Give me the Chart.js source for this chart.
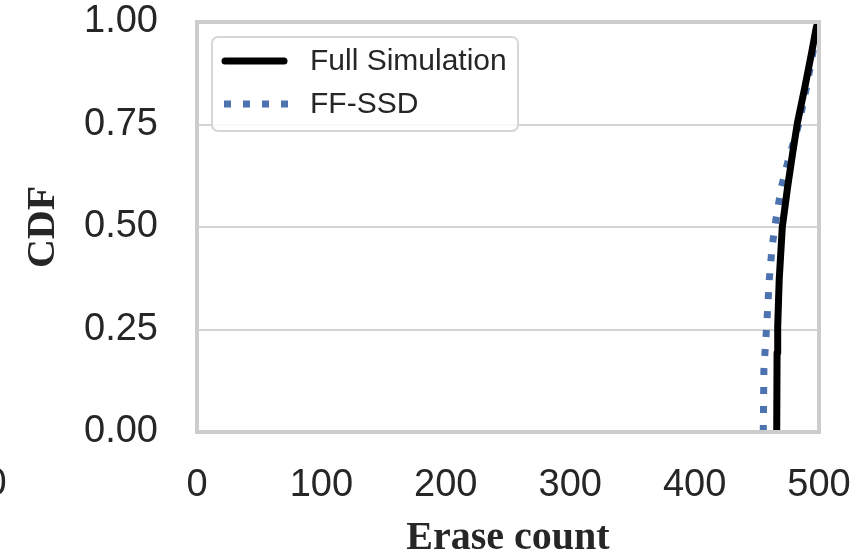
<!DOCTYPE html>
<html>
<head>
<meta charset="utf-8">
<script src="https://cdn.jsdelivr.net/npm/chart.js@4.4.1/dist/chart.umd.min.js"></script>
<style>
  html, body { margin: 0; padding: 0; background: #fff; }
  canvas { display: block; }
</style>
</head>
<body>
<canvas id="cdfChart" width="861" height="557"></canvas>
<script>
// CDF of per-block erase counts
const fullSimCount = [466, 466.3, 466.8, 468, 470.5, 474.8, 478.8, 482.6, 488.7, 494, 498, 499.5];
const fullSimCdf   = [0,   0.193, 0.257, 0.371, 0.50, 0.598, 0.68, 0.753, 0.842, 0.924, 0.989, 1.0];

const ffSsdCount = [455.2, 455.7, 457.9, 460, 462.3, 465.3, 469.8, 475.3, 484, 490, 495, 498, 499.5];
const ffSsdCdf   = [0,     0.151, 0.257, 0.371, 0.452, 0.517, 0.598, 0.663, 0.753, 0.842, 0.924, 0.989, 1.0];

const xTicks = [0, 100, 200, 300, 400, 500];
const yTicks = [0, 0.25, 0.5, 0.75, 1.0];

const textColor = '#262626';
const sans = '"Liberation Sans", Arial, sans-serif';
const serif = '"Liberation Serif", "Times New Roman", serif';

const toPoints = (xs, ys) => xs.map((x, i) => ({ x: x, y: ys[i] }));

// frame around the plot area, drawn above the curves
const frame = {
  id: 'frame',
  afterDatasetsDraw(chart) {
    const { ctx, chartArea: a } = chart;
    ctx.save();
    ctx.strokeStyle = '#cccccc';
    ctx.lineWidth = 4;
    ctx.strokeRect(a.left, a.top, a.right - a.left, a.bottom - a.top);
    ctx.restore();
  }
};

// boxed legend in the upper-left corner of the plot
const boxLegend = {
  id: 'boxLegend',
  afterDraw(chart) {
    const { ctx, chartArea: a } = chart;
    const x0 = a.left + 15, y0 = a.top + 15;
    ctx.save();
    ctx.beginPath();
    ctx.roundRect(x0, y0, 306, 94, 6);
    ctx.fillStyle = 'rgba(255,255,255,0.85)';
    ctx.fill();
    ctx.strokeStyle = '#d6d6d6';
    ctx.lineWidth = 2;
    ctx.stroke();
    chart.data.datasets.forEach((ds, i) => {
      const cy = y0 + 24 + i * 43;
      const dashed = ds.borderDash && ds.borderDash.length;
      ctx.beginPath();
      ctx.setLineDash(dashed ? ds.borderDash : []);
      ctx.lineCap = dashed ? 'butt' : 'round';
      ctx.moveTo(x0 + (dashed ? 12 : 13), cy);
      ctx.lineTo(x0 + (dashed ? 76 : 72), cy);
      ctx.strokeStyle = ds.borderColor;
      ctx.lineWidth = ds.borderWidth;
      ctx.stroke();
      ctx.setLineDash([]);
      ctx.fillStyle = textColor;
      ctx.font = '30px ' + sans;
      ctx.textBaseline = 'middle';
      ctx.textAlign = 'left';
      ctx.fillText(ds.label, x0 + 98, cy + 1);
    });
    // last tick label of the neighbouring panel, cut by the left edge
    ctx.font = '38px ' + sans;
    ctx.textAlign = 'center';
    ctx.fillText('0', -4, a.bottom + 53);
    ctx.restore();
  }
};

new Chart(document.getElementById('cdfChart'), {
  type: 'line',
  data: {
    datasets: [
      {
        label: 'Full Simulation',
        data: toPoints(fullSimCount, fullSimCdf),
        borderColor: '#000000',
        borderWidth: 7,
        borderJoinStyle: 'round',
        pointRadius: 0,
        tension: 0
      },
      {
        label: 'FF-SSD',
        data: toPoints(ffSsdCount, ffSsdCdf),
        borderColor: '#4c72b0',
        borderWidth: 7,
        borderDash: [7, 12],
        borderCapStyle: 'butt',
        borderJoinStyle: 'round',
        pointRadius: 0,
        tension: 0
      }
    ]
  },
  options: {
    responsive: false,
    animation: false,
    devicePixelRatio: 1,
    layout: { padding: { top: 22, right: 42, left: 0, bottom: 0 } },
    plugins: {
      legend: { display: false },
      tooltip: { enabled: false }
    },
    scales: {
      x: {
        type: 'linear',
        min: 0,
        max: 500,
        afterBuildTicks: s => { s.ticks = xTicks.map(v => ({ value: v })); },
        afterFit: s => { s.height = 125; s.paddingLeft = 0; s.paddingRight = 0; },
        grid: { display: false, drawTicks: false },
        border: { display: false },
        ticks: {
          color: textColor,
          font: { family: sans, size: 38 },
          padding: 31,
          maxRotation: 0
        },
        title: {
          display: true,
          text: 'Erase count',
          color: textColor,
          font: { family: serif, size: 40, weight: 'bold', lineHeight: 1 },
          padding: { top: 0, bottom: -2 }
        }
      },
      y: {
        min: 0,
        max: 1,
        afterBuildTicks: s => { s.ticks = yTicks.map(v => ({ value: v })); },
        afterFit: s => { s.width = 197; s.paddingTop = 0; s.paddingBottom = 0; },
        grid: { color: '#d4d4d4', lineWidth: 2, drawTicks: false },
        border: { display: false },
        ticks: {
          color: textColor,
          font: { family: sans, size: 38 },
          padding: 39,
          callback: v => v.toFixed(2)
        },
        title: {
          display: true,
          text: 'CDF',
          color: textColor,
          font: { family: serif, size: 40, weight: 'bold', lineHeight: 1 },
          padding: { top: 24, bottom: 0 }
        }
      }
    }
  },
  plugins: [frame, boxLegend]
});
</script>
</body>
</html>
